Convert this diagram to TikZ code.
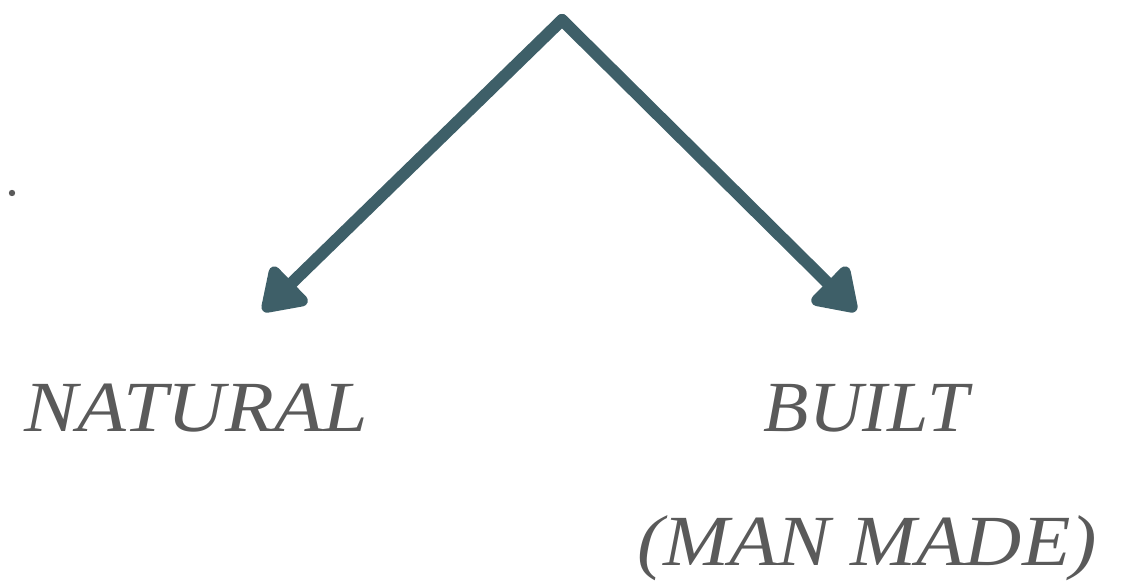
\documentclass[tikz,border=0pt]{standalone}
\usepackage{fontspec}
\setmainfont{Liberation Serif}
\usetikzlibrary{arrows.meta}
\definecolor{slate}{HTML}{3E5F68}
\definecolor{labelgrey}{HTML}{5A5A5A}
\tikzset{
  branch/.style={draw=slate, line width=12pt, line cap=round, line join=round,
    -{Triangle[length=46pt, width=58pt, round]}},
  label/.style={text=labelgrey, font=\fontsize{72}{80}\selectfont\itshape, inner sep=0pt},
}
\begin{document}
\begin{tikzpicture}[x=1pt, y=-1pt]
  \useasboundingbox (0,0) rectangle (1123,583);
  \coordinate (apex) at (562,20);
  \coordinate (ltip) at (263,311);
  \coordinate (rtip) at (856,311);
  \draw[branch] (apex) -- (ltip);
  \draw[branch] (apex) -- (rtip);
  \fill[labelgrey] (12,193) circle (3.2pt);
  \node[label] (natural) at (196,408) {\scalebox{1.11}[1]{NATURAL}};
  \node[label] (built) at (866,408) {\scalebox{1.03}[1]{BUILT}};
  \node[label] (manmade) at (867,548) {\scalebox{1.10}[1]{(MAN MADE)}};
\end{tikzpicture}
\end{document}
